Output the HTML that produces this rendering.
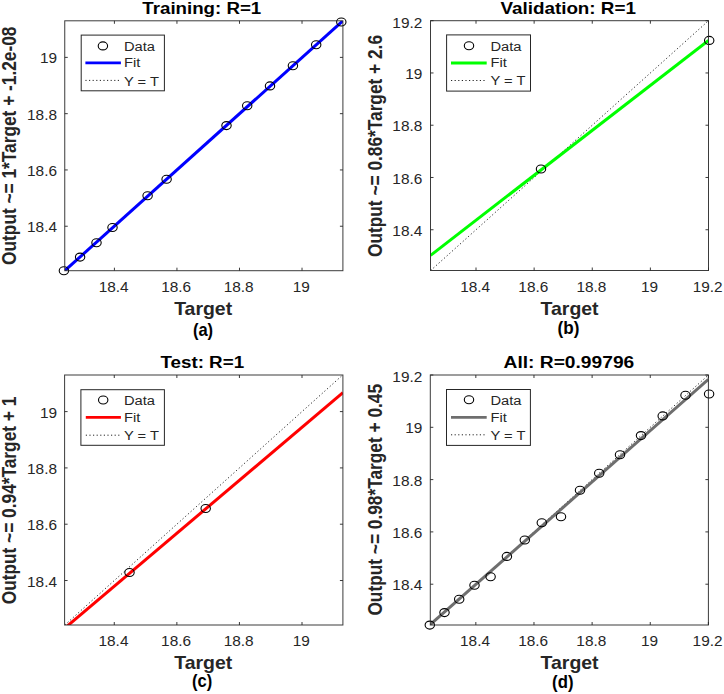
<!DOCTYPE html>
<html><head><meta charset="utf-8"><title>Regression plots</title>
<style>html,body{margin:0;padding:0;background:#fff;}body{width:724px;height:694px;overflow:hidden;}svg{display:block;}text{font-family:"Liberation Sans",sans-serif;}</style>
</head><body>
<svg width="724" height="694" viewBox="0 0 724 694">
<rect width="724" height="694" fill="#fff"/>
<clipPath id="ca"><rect x="64.75" y="20.8" width="278.15" height="249.9"/></clipPath>
<g clip-path="url(#ca)">
<line x1="65" y1="270.7" x2="342.68" y2="20.8" stroke="#262626" stroke-width="1" stroke-dasharray="1.2 2.4"/>
<line x1="64.75" y1="270.7" x2="342.9" y2="20.8" stroke="#0000ff" stroke-width="3.0"/>
</g>
<ellipse cx="63.9" cy="270.7" rx="4.7" ry="4.0" fill="none" stroke="#000" stroke-width="1.1"/>
<ellipse cx="80.1" cy="257.1" rx="4.7" ry="4.0" fill="none" stroke="#000" stroke-width="1.1"/>
<ellipse cx="96.5" cy="242.7" rx="4.7" ry="4.0" fill="none" stroke="#000" stroke-width="1.1"/>
<ellipse cx="112.5" cy="227.5" rx="4.7" ry="4.0" fill="none" stroke="#000" stroke-width="1.1"/>
<ellipse cx="147.6" cy="195.8" rx="4.7" ry="4.0" fill="none" stroke="#000" stroke-width="1.1"/>
<ellipse cx="166.6" cy="179.3" rx="4.7" ry="4.0" fill="none" stroke="#000" stroke-width="1.1"/>
<ellipse cx="226.5" cy="125.6" rx="4.7" ry="4.0" fill="none" stroke="#000" stroke-width="1.1"/>
<ellipse cx="247.2" cy="105.7" rx="4.7" ry="4.0" fill="none" stroke="#000" stroke-width="1.1"/>
<ellipse cx="270" cy="85.9" rx="4.7" ry="4.0" fill="none" stroke="#000" stroke-width="1.1"/>
<ellipse cx="292.9" cy="65.8" rx="4.7" ry="4.0" fill="none" stroke="#000" stroke-width="1.1"/>
<ellipse cx="316.2" cy="44.7" rx="4.7" ry="4.0" fill="none" stroke="#000" stroke-width="1.1"/>
<ellipse cx="341.3" cy="22" rx="4.7" ry="4.0" fill="none" stroke="#000" stroke-width="1.1"/>
<rect x="64.75" y="20.8" width="278.15" height="249.9" fill="none" stroke="#262626" stroke-width="1.0" opacity="0.9"/>
<path d="M114.41 270.7v-3M114.41 20.8v3" stroke="#262626" stroke-width="1" opacity="0.9"/>
<path d="M176.95 270.7v-3M176.95 20.8v3" stroke="#262626" stroke-width="1" opacity="0.9"/>
<path d="M239.49 270.7v-3M239.49 20.8v3" stroke="#262626" stroke-width="1" opacity="0.9"/>
<path d="M302.03 270.7v-3M302.03 20.8v3" stroke="#262626" stroke-width="1" opacity="0.9"/>
<path d="M64.75 226.24h3M342.9 226.24h-3" stroke="#262626" stroke-width="1" opacity="0.9"/>
<path d="M64.75 169.95h3M342.9 169.95h-3" stroke="#262626" stroke-width="1" opacity="0.9"/>
<path d="M64.75 113.67h3M342.9 113.67h-3" stroke="#262626" stroke-width="1" opacity="0.9"/>
<path d="M64.75 57.38h3M342.9 57.38h-3" stroke="#262626" stroke-width="1" opacity="0.9"/>
<text transform="translate(113.61,291.6) scale(1.1,1)" font-size="14" font-weight="normal" text-anchor="middle" fill="#262626" font-family="Liberation Sans">18.4</text>
<text transform="translate(176.15,291.6) scale(1.1,1)" font-size="14" font-weight="normal" text-anchor="middle" fill="#262626" font-family="Liberation Sans">18.6</text>
<text transform="translate(238.69,291.6) scale(1.1,1)" font-size="14" font-weight="normal" text-anchor="middle" fill="#262626" font-family="Liberation Sans">18.8</text>
<text transform="translate(301.23,291.6) scale(1.1,1)" font-size="14" font-weight="normal" text-anchor="middle" fill="#262626" font-family="Liberation Sans">19</text>
<text transform="translate(57,232.34) scale(1.1,1)" font-size="14" font-weight="normal" text-anchor="end" fill="#262626" font-family="Liberation Sans">18.4</text>
<text transform="translate(57,176.05) scale(1.1,1)" font-size="14" font-weight="normal" text-anchor="end" fill="#262626" font-family="Liberation Sans">18.6</text>
<text transform="translate(57,119.77) scale(1.1,1)" font-size="14" font-weight="normal" text-anchor="end" fill="#262626" font-family="Liberation Sans">18.8</text>
<text transform="translate(57,63.48) scale(1.1,1)" font-size="14" font-weight="normal" text-anchor="end" fill="#262626" font-family="Liberation Sans">19</text>
<text transform="translate(201.8,13.7) scale(1.1,1)" font-size="17" font-weight="bold" text-anchor="middle" fill="#000" font-family="Liberation Sans">Training: R=1</text>
<text transform="translate(203.15,314.8) scale(1.113,1)" font-size="17.5" font-weight="bold" text-anchor="middle" fill="#262626" font-family="Liberation Sans">Target</text>
<text transform="translate(16.3,145.75) scale(1.15,1) rotate(-90)" font-size="17.3" font-weight="bold" text-anchor="middle" fill="#262626" font-family="Liberation Sans">Output ~= 1*Target + -1.2e-08</text>
<text transform="translate(203,335.5) scale(0.92,1)" font-size="18" font-weight="bold" text-anchor="middle" fill="#000" font-family="Liberation Sans">(a)</text>
<rect x="81.2" y="35.1" width="83.2" height="55.7" fill="#fff" stroke="#262626" stroke-width="1" opacity="1"/>
<ellipse cx="102.9" cy="45.9" rx="4.7" ry="4.0" fill="none" stroke="#000" stroke-width="1.1"/>
<line x1="85.4" y1="62.9" x2="120.9" y2="62.9" stroke="#0000ff" stroke-width="2.8"/>
<line x1="85.4" y1="80.4" x2="120.9" y2="80.4" stroke="#262626" stroke-width="1" stroke-dasharray="1.2 2.4"/>
<text transform="translate(123.9,50.7) scale(1.09,1)" font-size="13.5" font-weight="normal" text-anchor="start" fill="#262626" font-family="Liberation Sans">Data</text>
<text transform="translate(123.9,67.3) scale(1.09,1)" font-size="13.5" font-weight="normal" text-anchor="start" fill="#262626" font-family="Liberation Sans">Fit</text>
<text transform="translate(123.9,85.5) scale(1.09,1)" font-size="13.5" font-weight="normal" text-anchor="start" fill="#262626" font-family="Liberation Sans">Y = T</text>
<clipPath id="cb"><rect x="430.5" y="20.7" width="278" height="249.8"/></clipPath>
<g clip-path="url(#cb)">
<line x1="430.67" y1="270.5" x2="708.5" y2="20.7" stroke="#262626" stroke-width="1" stroke-dasharray="1.2 2.4"/>
<line x1="430.5" y1="255.4" x2="708.5" y2="40.5" stroke="#00ff00" stroke-width="3.0"/>
</g>
<ellipse cx="541" cy="169" rx="4.7" ry="4.0" fill="none" stroke="#000" stroke-width="1.1"/>
<ellipse cx="709.2" cy="40.4" rx="4.7" ry="4.0" fill="none" stroke="#000" stroke-width="1.1"/>
<rect x="430.5" y="20.7" width="278" height="249.8" fill="none" stroke="#262626" stroke-width="1.0" opacity="0.9"/>
<path d="M476.01 270.5v-3M476.01 20.7v3" stroke="#262626" stroke-width="1" opacity="0.9"/>
<path d="M534.13 270.5v-3M534.13 20.7v3" stroke="#262626" stroke-width="1" opacity="0.9"/>
<path d="M592.25 270.5v-3M592.25 20.7v3" stroke="#262626" stroke-width="1" opacity="0.9"/>
<path d="M650.38 270.5v-3M650.38 20.7v3" stroke="#262626" stroke-width="1" opacity="0.9"/>
<path d="M708.5 270.5v-3M708.5 20.7v3" stroke="#262626" stroke-width="1" opacity="0.9"/>
<path d="M430.5 229.74h3M708.5 229.74h-3" stroke="#262626" stroke-width="1" opacity="0.9"/>
<path d="M430.5 177.48h3M708.5 177.48h-3" stroke="#262626" stroke-width="1" opacity="0.9"/>
<path d="M430.5 125.22h3M708.5 125.22h-3" stroke="#262626" stroke-width="1" opacity="0.9"/>
<path d="M430.5 72.96h3M708.5 72.96h-3" stroke="#262626" stroke-width="1" opacity="0.9"/>
<path d="M430.5 20.7h3M708.5 20.7h-3" stroke="#262626" stroke-width="1" opacity="0.9"/>
<text transform="translate(475.21,291.6) scale(1.1,1)" font-size="14" font-weight="normal" text-anchor="middle" fill="#262626" font-family="Liberation Sans">18.4</text>
<text transform="translate(533.33,291.6) scale(1.1,1)" font-size="14" font-weight="normal" text-anchor="middle" fill="#262626" font-family="Liberation Sans">18.6</text>
<text transform="translate(591.45,291.6) scale(1.1,1)" font-size="14" font-weight="normal" text-anchor="middle" fill="#262626" font-family="Liberation Sans">18.8</text>
<text transform="translate(649.58,291.6) scale(1.1,1)" font-size="14" font-weight="normal" text-anchor="middle" fill="#262626" font-family="Liberation Sans">19</text>
<text transform="translate(707.7,291.6) scale(1.1,1)" font-size="14" font-weight="normal" text-anchor="middle" fill="#262626" font-family="Liberation Sans">19.2</text>
<text transform="translate(422.3,235.84) scale(1.1,1)" font-size="14" font-weight="normal" text-anchor="end" fill="#262626" font-family="Liberation Sans">18.4</text>
<text transform="translate(422.3,183.58) scale(1.1,1)" font-size="14" font-weight="normal" text-anchor="end" fill="#262626" font-family="Liberation Sans">18.6</text>
<text transform="translate(422.3,131.32) scale(1.1,1)" font-size="14" font-weight="normal" text-anchor="end" fill="#262626" font-family="Liberation Sans">18.8</text>
<text transform="translate(422.3,79.06) scale(1.1,1)" font-size="14" font-weight="normal" text-anchor="end" fill="#262626" font-family="Liberation Sans">19</text>
<text transform="translate(422.3,27.8) scale(1.1,1)" font-size="14" font-weight="normal" text-anchor="end" fill="#262626" font-family="Liberation Sans">19.2</text>
<text transform="translate(568.2,13.7) scale(1.107,1)" font-size="17" font-weight="bold" text-anchor="middle" fill="#000" font-family="Liberation Sans">Validation: R=1</text>
<text transform="translate(569.55,314.9) scale(1.113,1)" font-size="17.5" font-weight="bold" text-anchor="middle" fill="#262626" font-family="Liberation Sans">Target</text>
<text transform="translate(382,146) scale(1.15,1) rotate(-90)" font-size="17.3" font-weight="bold" text-anchor="middle" fill="#262626" font-family="Liberation Sans">Output ~= 0.86*Target + 2.6</text>
<text transform="translate(568.5,334.3) scale(0.95,1)" font-size="18" font-weight="bold" text-anchor="middle" fill="#000" font-family="Liberation Sans">(b)</text>
<rect x="446.6" y="34.9" width="83.9" height="56.2" fill="#fff" stroke="#262626" stroke-width="1" opacity="1"/>
<ellipse cx="469" cy="45.7" rx="4.7" ry="4.0" fill="none" stroke="#000" stroke-width="1.1"/>
<line x1="451" y1="63" x2="486.7" y2="63" stroke="#00ff00" stroke-width="2.8"/>
<line x1="451" y1="80.5" x2="486.7" y2="80.5" stroke="#262626" stroke-width="1" stroke-dasharray="1.2 2.4"/>
<text transform="translate(490.4,50.6) scale(1.09,1)" font-size="13.5" font-weight="normal" text-anchor="start" fill="#262626" font-family="Liberation Sans">Data</text>
<text transform="translate(490.4,67.4) scale(1.09,1)" font-size="13.5" font-weight="normal" text-anchor="start" fill="#262626" font-family="Liberation Sans">Fit</text>
<text transform="translate(490.4,85.3) scale(1.09,1)" font-size="13.5" font-weight="normal" text-anchor="start" fill="#262626" font-family="Liberation Sans">Y = T</text>
<clipPath id="cc"><rect x="64.6" y="375" width="278.3" height="250"/></clipPath>
<g clip-path="url(#cc)">
<line x1="64.85" y1="625" x2="342.68" y2="375" stroke="#262626" stroke-width="1" stroke-dasharray="1.2 2.4"/>
<line x1="64.6" y1="628.3" x2="342.9" y2="392.7" stroke="#ff0000" stroke-width="3.0"/>
</g>
<ellipse cx="129.5" cy="572.5" rx="4.7" ry="4.0" fill="none" stroke="#000" stroke-width="1.1"/>
<ellipse cx="205.7" cy="508.5" rx="4.7" ry="4.0" fill="none" stroke="#000" stroke-width="1.1"/>
<rect x="64.6" y="375" width="278.3" height="250" fill="none" stroke="#262626" stroke-width="1.0" opacity="0.9"/>
<path d="M114.28 625v-3M114.28 375v3" stroke="#262626" stroke-width="1" opacity="0.9"/>
<path d="M176.86 625v-3M176.86 375v3" stroke="#262626" stroke-width="1" opacity="0.9"/>
<path d="M239.43 625v-3M239.43 375v3" stroke="#262626" stroke-width="1" opacity="0.9"/>
<path d="M302.01 625v-3M302.01 375v3" stroke="#262626" stroke-width="1" opacity="0.9"/>
<path d="M64.6 580.52h3M342.9 580.52h-3" stroke="#262626" stroke-width="1" opacity="0.9"/>
<path d="M64.6 524.21h3M342.9 524.21h-3" stroke="#262626" stroke-width="1" opacity="0.9"/>
<path d="M64.6 467.91h3M342.9 467.91h-3" stroke="#262626" stroke-width="1" opacity="0.9"/>
<path d="M64.6 411.6h3M342.9 411.6h-3" stroke="#262626" stroke-width="1" opacity="0.9"/>
<text transform="translate(113.48,645.8) scale(1.1,1)" font-size="14" font-weight="normal" text-anchor="middle" fill="#262626" font-family="Liberation Sans">18.4</text>
<text transform="translate(176.06,645.8) scale(1.1,1)" font-size="14" font-weight="normal" text-anchor="middle" fill="#262626" font-family="Liberation Sans">18.6</text>
<text transform="translate(238.63,645.8) scale(1.1,1)" font-size="14" font-weight="normal" text-anchor="middle" fill="#262626" font-family="Liberation Sans">18.8</text>
<text transform="translate(301.21,645.8) scale(1.1,1)" font-size="14" font-weight="normal" text-anchor="middle" fill="#262626" font-family="Liberation Sans">19</text>
<text transform="translate(57,586.62) scale(1.1,1)" font-size="14" font-weight="normal" text-anchor="end" fill="#262626" font-family="Liberation Sans">18.4</text>
<text transform="translate(57,530.31) scale(1.1,1)" font-size="14" font-weight="normal" text-anchor="end" fill="#262626" font-family="Liberation Sans">18.6</text>
<text transform="translate(57,474.01) scale(1.1,1)" font-size="14" font-weight="normal" text-anchor="end" fill="#262626" font-family="Liberation Sans">18.8</text>
<text transform="translate(57,417.7) scale(1.1,1)" font-size="14" font-weight="normal" text-anchor="end" fill="#262626" font-family="Liberation Sans">19</text>
<text transform="translate(202.25,368.2) scale(1.106,1)" font-size="17" font-weight="bold" text-anchor="middle" fill="#000" font-family="Liberation Sans">Test: R=1</text>
<text transform="translate(203.2,668.8) scale(1.113,1)" font-size="17.5" font-weight="bold" text-anchor="middle" fill="#262626" font-family="Liberation Sans">Target</text>
<text transform="translate(16.3,500.5) scale(1.15,1) rotate(-90)" font-size="17.3" font-weight="bold" text-anchor="middle" fill="#262626" font-family="Liberation Sans">Output ~= 0.94*Target + 1</text>
<text transform="translate(202.1,687.3) scale(0.92,1)" font-size="18" font-weight="bold" text-anchor="middle" fill="#000" font-family="Liberation Sans">(c)</text>
<rect x="80.9" y="389.7" width="83.5" height="55.6" fill="#fff" stroke="#262626" stroke-width="1" opacity="1"/>
<ellipse cx="103.2" cy="400" rx="4.7" ry="4.0" fill="none" stroke="#000" stroke-width="1.1"/>
<line x1="85.8" y1="417.3" x2="120.9" y2="417.3" stroke="#ff0000" stroke-width="2.8"/>
<line x1="85.8" y1="435.2" x2="120.9" y2="435.2" stroke="#262626" stroke-width="1" stroke-dasharray="1.2 2.4"/>
<text transform="translate(123.9,405) scale(1.09,1)" font-size="13.5" font-weight="normal" text-anchor="start" fill="#262626" font-family="Liberation Sans">Data</text>
<text transform="translate(123.9,421.6) scale(1.09,1)" font-size="13.5" font-weight="normal" text-anchor="start" fill="#262626" font-family="Liberation Sans">Fit</text>
<text transform="translate(123.9,439.8) scale(1.09,1)" font-size="13.5" font-weight="normal" text-anchor="start" fill="#262626" font-family="Liberation Sans">Y = T</text>
<clipPath id="cd"><rect x="430.3" y="375" width="278.1" height="250"/></clipPath>
<g clip-path="url(#cd)">
<line x1="430.47" y1="625" x2="708.4" y2="375" stroke="#262626" stroke-width="1" stroke-dasharray="1.2 2.4"/>
<line x1="430.3" y1="624.5" x2="708.4" y2="379.4" stroke="#6e6e6e" stroke-width="3.0"/>
</g>
<ellipse cx="429.8" cy="625.1" rx="4.7" ry="4.0" fill="none" stroke="#000" stroke-width="1.1"/>
<ellipse cx="444.5" cy="612.6" rx="4.7" ry="4.0" fill="none" stroke="#000" stroke-width="1.1"/>
<ellipse cx="459.2" cy="599.2" rx="4.7" ry="4.0" fill="none" stroke="#000" stroke-width="1.1"/>
<ellipse cx="474.5" cy="585.2" rx="4.7" ry="4.0" fill="none" stroke="#000" stroke-width="1.1"/>
<ellipse cx="490.6" cy="576.8" rx="4.7" ry="4.0" fill="none" stroke="#000" stroke-width="1.1"/>
<ellipse cx="506.9" cy="556.4" rx="4.7" ry="4.0" fill="none" stroke="#000" stroke-width="1.1"/>
<ellipse cx="524.8" cy="540" rx="4.7" ry="4.0" fill="none" stroke="#000" stroke-width="1.1"/>
<ellipse cx="541.8" cy="522.8" rx="4.7" ry="4.0" fill="none" stroke="#000" stroke-width="1.1"/>
<ellipse cx="561" cy="516.7" rx="4.7" ry="4.0" fill="none" stroke="#000" stroke-width="1.1"/>
<ellipse cx="580" cy="490.3" rx="4.7" ry="4.0" fill="none" stroke="#000" stroke-width="1.1"/>
<ellipse cx="599.2" cy="473.2" rx="4.7" ry="4.0" fill="none" stroke="#000" stroke-width="1.1"/>
<ellipse cx="620" cy="454.7" rx="4.7" ry="4.0" fill="none" stroke="#000" stroke-width="1.1"/>
<ellipse cx="641" cy="435.6" rx="4.7" ry="4.0" fill="none" stroke="#000" stroke-width="1.1"/>
<ellipse cx="662.7" cy="415.9" rx="4.7" ry="4.0" fill="none" stroke="#000" stroke-width="1.1"/>
<ellipse cx="685.5" cy="395.3" rx="4.7" ry="4.0" fill="none" stroke="#000" stroke-width="1.1"/>
<ellipse cx="709.1" cy="394" rx="4.7" ry="4.0" fill="none" stroke="#000" stroke-width="1.1"/>
<rect x="430.3" y="375" width="278.1" height="250" fill="none" stroke="#262626" stroke-width="1.0" opacity="0.9"/>
<path d="M475.83 625v-3M475.83 375v3" stroke="#262626" stroke-width="1" opacity="0.9"/>
<path d="M533.97 625v-3M533.97 375v3" stroke="#262626" stroke-width="1" opacity="0.9"/>
<path d="M592.11 625v-3M592.11 375v3" stroke="#262626" stroke-width="1" opacity="0.9"/>
<path d="M650.26 625v-3M650.26 375v3" stroke="#262626" stroke-width="1" opacity="0.9"/>
<path d="M708.4 625v-3M708.4 375v3" stroke="#262626" stroke-width="1" opacity="0.9"/>
<path d="M430.3 584.21h3M708.4 584.21h-3" stroke="#262626" stroke-width="1" opacity="0.9"/>
<path d="M430.3 531.9h3M708.4 531.9h-3" stroke="#262626" stroke-width="1" opacity="0.9"/>
<path d="M430.3 479.6h3M708.4 479.6h-3" stroke="#262626" stroke-width="1" opacity="0.9"/>
<path d="M430.3 427.3h3M708.4 427.3h-3" stroke="#262626" stroke-width="1" opacity="0.9"/>
<path d="M430.3 375h3M708.4 375h-3" stroke="#262626" stroke-width="1" opacity="0.9"/>
<text transform="translate(475.03,645.8) scale(1.1,1)" font-size="14" font-weight="normal" text-anchor="middle" fill="#262626" font-family="Liberation Sans">18.4</text>
<text transform="translate(533.17,645.8) scale(1.1,1)" font-size="14" font-weight="normal" text-anchor="middle" fill="#262626" font-family="Liberation Sans">18.6</text>
<text transform="translate(591.31,645.8) scale(1.1,1)" font-size="14" font-weight="normal" text-anchor="middle" fill="#262626" font-family="Liberation Sans">18.8</text>
<text transform="translate(649.46,645.8) scale(1.1,1)" font-size="14" font-weight="normal" text-anchor="middle" fill="#262626" font-family="Liberation Sans">19</text>
<text transform="translate(707.6,645.8) scale(1.1,1)" font-size="14" font-weight="normal" text-anchor="middle" fill="#262626" font-family="Liberation Sans">19.2</text>
<text transform="translate(422.3,590.31) scale(1.1,1)" font-size="14" font-weight="normal" text-anchor="end" fill="#262626" font-family="Liberation Sans">18.4</text>
<text transform="translate(422.3,538) scale(1.1,1)" font-size="14" font-weight="normal" text-anchor="end" fill="#262626" font-family="Liberation Sans">18.6</text>
<text transform="translate(422.3,485.7) scale(1.1,1)" font-size="14" font-weight="normal" text-anchor="end" fill="#262626" font-family="Liberation Sans">18.8</text>
<text transform="translate(422.3,433.4) scale(1.1,1)" font-size="14" font-weight="normal" text-anchor="end" fill="#262626" font-family="Liberation Sans">19</text>
<text transform="translate(422.3,382.1) scale(1.1,1)" font-size="14" font-weight="normal" text-anchor="end" fill="#262626" font-family="Liberation Sans">19.2</text>
<text transform="translate(568.9,368) scale(1.13,1)" font-size="17" font-weight="bold" text-anchor="middle" fill="#000" font-family="Liberation Sans">All: R=0.99796</text>
<text transform="translate(569.55,669.2) scale(1.113,1)" font-size="17.5" font-weight="bold" text-anchor="middle" fill="#262626" font-family="Liberation Sans">Target</text>
<text transform="translate(382.3,499.8) scale(1.15,1) rotate(-90)" font-size="17.3" font-weight="bold" text-anchor="middle" fill="#262626" font-family="Liberation Sans">Output ~= 0.98*Target + 0.45</text>
<text transform="translate(562.8,687.8) scale(0.93,1)" font-size="18" font-weight="bold" text-anchor="middle" fill="#000" font-family="Liberation Sans">(d)</text>
<rect x="446.5" y="389.5" width="83.9" height="55.9" fill="#fff" stroke="#262626" stroke-width="1" opacity="1"/>
<ellipse cx="469" cy="399.8" rx="4.7" ry="4.0" fill="none" stroke="#000" stroke-width="1.1"/>
<line x1="451" y1="417.3" x2="486.7" y2="417.3" stroke="#6e6e6e" stroke-width="2.8"/>
<line x1="451" y1="434.8" x2="486.7" y2="434.8" stroke="#262626" stroke-width="1" stroke-dasharray="1.2 2.4"/>
<text transform="translate(490.4,404.9) scale(1.09,1)" font-size="13.5" font-weight="normal" text-anchor="start" fill="#262626" font-family="Liberation Sans">Data</text>
<text transform="translate(490.4,421.7) scale(1.09,1)" font-size="13.5" font-weight="normal" text-anchor="start" fill="#262626" font-family="Liberation Sans">Fit</text>
<text transform="translate(490.4,439.6) scale(1.09,1)" font-size="13.5" font-weight="normal" text-anchor="start" fill="#262626" font-family="Liberation Sans">Y = T</text>
</svg>
</body></html>
